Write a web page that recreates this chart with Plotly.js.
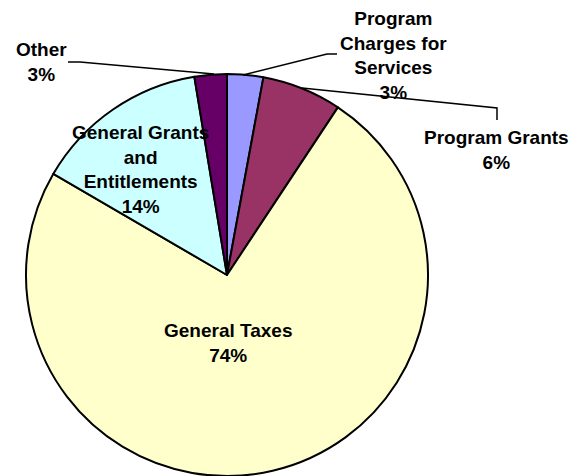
<!DOCTYPE html>
<html>
<head>
<meta charset="utf-8">
<script src="https://cdn.plot.ly/plotly-3.0.1.min.js"></script>
<style>html,body{margin:0;padding:0;background:#fff;}#chart{width:573px;height:476px;}</style>
</head>
<body>
<div id="chart"></div>
<script>
// Data
const categories = ["Program Charges for Services", "Program Grants", "General Taxes", "General Grants and Entitlements", "Other"];
const displayLabels = ["Program<br>Charges for<br>Services", "Program Grants", "General Taxes", "General Grants<br>and<br>Entitlements", "Other"];
const values = [2.9, 6.4, 74.1, 14.0, 2.6];
const colors = ["#9999FF", "#993366", "#FFFFCC", "#CCFFFF", "#660066"];

const W = 573, H = 476;
const total = values.reduce((a, b) => a + b, 0);
const pct = values.map(v => Math.round(v / total * 100) + "%");

// label centres (pixels) and leader lines (pixels)
const labelPos = [[393, 55], [496, 150], [228, 343], [140, 169], [41, 62]];
const leaders = [
  [[337, 54], [327, 54], [243, 75]],
  [[302, 88], [497, 108], [497, 120]],
  null,
  null,
  [[68, 62], [80, 62], [214, 74]]
];

function px2paper(p) { return [p[0] / W, 1 - p[1] / H]; }

const annotations = categories.map((c, i) => {
  const p = px2paper(labelPos[i]);
  return {
    x: p[0], y: p[1], xref: "paper", yref: "paper",
    xanchor: "center", yanchor: "middle", showarrow: false,
    text: "<b>" + displayLabels[i] + "<br>" + pct[i] + "</b>",
    font: { family: "Liberation Sans, Arial, sans-serif", size: 19, color: "#000" },
    align: "center"
  };
});

const shapes = leaders.filter(l => l).map(l => {
  const pts = l.map(px2paper);
  return {
    type: "path", xref: "paper", yref: "paper",
    path: pts.map((p, j) => (j ? "L" : "M") + p[0] + "," + p[1]).join(" "),
    line: { color: "#000", width: 1.5 }
  };
});

const trace = {
  type: "pie",
  labels: categories,
  values: values,
  sort: false,
  direction: "clockwise",
  rotation: 0,
  textinfo: "none",
  hoverinfo: "label+percent",
  marker: { colors: colors, line: { color: "#000", width: 2 } },
  domain: { x: [25 / W, 429 / W], y: [0, 1 - 74 / H] }
};

const layout = {
  width: W, height: H,
  margin: { l: 0, r: 0, t: 0, b: 0 },
  showlegend: false,
  paper_bgcolor: "#fff",
  annotations: annotations,
  shapes: shapes
};

Plotly.newPlot("chart", [trace], layout, { displayModeBar: false, staticPlot: true });
</script>
</body>
</html>
